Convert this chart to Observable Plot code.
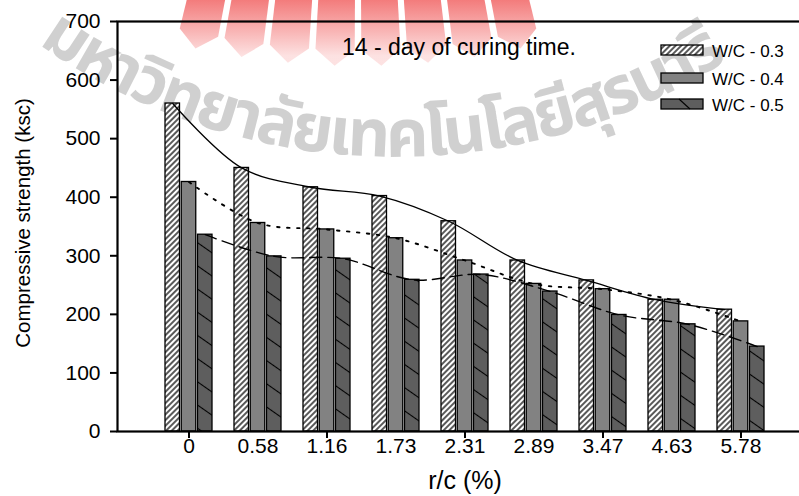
<!DOCTYPE html>
<html>
<head>
<meta charset="utf-8">
<script src="https://cdn.jsdelivr.net/npm/d3@7"></script>
<script src="https://cdn.jsdelivr.net/npm/@observablehq/plot@0.6"></script>
<style>
html,body{margin:0;padding:0;background:#fff;}
#chart{position:relative;width:799px;height:496px;overflow:hidden;}
#chart svg{font-family:"Liberation Sans",Arial,sans-serif;}
</style>
</head>
<body>
<svg width="0" height="0" style="position:absolute">
  <defs>
    <pattern id="hatch03" patternUnits="userSpaceOnUse" width="4" height="4" patternTransform="rotate(45)">
      <rect width="4" height="4" fill="#fff"/>
      <line x1="2" y1="0" x2="2" y2="4" stroke="#000" stroke-width="1.3"/>
    </pattern>
    <pattern id="hatch05" patternUnits="userSpaceOnUse" width="10" height="19" patternTransform="rotate(35)">
      <rect width="10" height="19" fill="#5e5e5e"/>
      <line x1="0" y1="9.5" x2="10" y2="9.5" stroke="#000" stroke-width="1.1"/>
    </pattern>
    <linearGradient id="sealGrad" gradientUnits="userSpaceOnUse" x1="0" y1="0" x2="0" y2="56">
      <stop offset="0" stop-color="#ef5050"/>
      <stop offset="1" stop-color="#fcd8d8"/>
    </linearGradient>
  </defs>
</svg>
<div id="chart"></div>
<script>
const categories = ["0","0.58","1.16","1.73","2.31","2.89","3.47","4.63","5.78"];
const seriesNames = ["W/C - 0.3","W/C - 0.4","W/C - 0.5"];
const wc03 = [560,450,417,402,359,292,258,225,208];
const wc04 = [426,356,345,330,292,252,243,225,188];
const wc05 = [336,299,295,259,268,239,199,183,145];
const yTicks = [0,100,200,300,400,500,600,700];
const majorTicks = ["0","1.16","2.31","3.47","5.78"];
const titleText = "14 - day of curing time.";
const xLabel = "r/c (%)";
const yLabel = "Compressive strength (ksc)";
const watermark = "มหาวิทยาลัยเทคโนโลยีสุรนารี";

const values = [wc03, wc04, wc05];
const rows = values.flatMap((arr, k) => arr.map((v, i) => ({cat: categories[i], series: seriesNames[k], k, value: v})));

const fills = ["url(#hatch03)", "#828282", "url(#hatch05)"];
const dashes = ["none", "2.5,7.5", "12,6"];
const widths = [1.3, 1.9, 1.4];
const gap = 16.25;

const barMarks = seriesNames.map((s, k) =>
  Plot.barY(rows.filter(r => r.k === k), {
    x: "cat", y: "value", fill: fills[k], stroke: "#000", strokeWidth: 1.3,
    insetLeft: k * gap, insetRight: (2 - k) * gap
  }));
const lineMarks = seriesNames.map((s, k) =>
  Plot.line(rows.filter(r => r.k === k), {
    x: "cat", y: "value", dx: (k - 1) * gap, curve: "catmull-rom",
    stroke: "#000", strokeWidth: widths[k], strokeDasharray: dashes[k]
  }));

const chart = Plot.plot({
  width: 799, height: 496,
  marginLeft: 117, marginRight: -12, marginTop: 21, marginBottom: 65,
  style: {fontFamily: '"Liberation Sans", Arial, sans-serif', color: "#000", overflow: "hidden"},
  x: {type: "band", domain: categories, paddingInner: 0.326, paddingOuter: 0.639},
  y: {domain: [0, 700]},
  marks: [
    ...barMarks,
    ...lineMarks,
    Plot.frame({stroke: "#000", strokeWidth: 2.2}),
    Plot.axisY({ticks: yTicks, tickSize: 7, tickPadding: 10, fontSize: 21, label: null, strokeWidth: 2}),
    Plot.axisX({ticks: categories, tickSize: 0, tickPadding: 7, fontSize: 21, label: null}),
    Plot.axisX({ticks: majorTicks, tickSize: 7, tickFormat: () => "", label: null, strokeWidth: 2})
  ]
});
document.getElementById("chart").appendChild(chart);

const svg = d3.select(chart);
// watermark layer (behind everything)
const wm = svg.insert("g", ":first-child").attr("class", "watermark");
const cx = 358, cy = -700, R = 750, tipR = 766;
const rad = a => a * Math.PI / 180;
const pt = (r, a) => [cx + r * Math.sin(rad(a)), cy + r * Math.cos(rad(a))];
[-12.25, -8.75, -5.25, -1.75, 1.75, 5.25, 8.75, 12.25].forEach(a => {
  const p = [pt(600, a - 1.5), pt(R, a - 1.5), pt(tipR, a), pt(R, a + 1.5), pt(600, a + 1.5)];
  wm.append("path").attr("d", "M" + p.map(q => q.join(",")).join("L") + "Z")
    .attr("fill", "url(#sealGrad)").attr("opacity", 0.75);
});
wm.append("path").attr("id", "wmArc").attr("fill", "none")
  .attr("d", "M -140 -150 A 620 620 0 0 0 930 -150");
wm.append("text")
  .attr("font-family", '"Noto Sans Thai","Noto Sans Thai UI","Loma","Garuda","Tlwg Typo","Norasi",sans-serif')
  .attr("font-size", 66).attr("font-weight", "bold").attr("letter-spacing", -3)
  .attr("fill", "#bdbdbd").attr("opacity", 0.7)
  .append("textPath").attr("href", "#wmArc").attr("startOffset", "48.8%").attr("text-anchor", "middle")
  .text(watermark);

// titles
svg.append("text").attr("x", 342).attr("y", 55).attr("text-anchor", "start").attr("font-size", 23).attr("fill", "#000").text(titleText);
svg.append("text").attr("x", 465).attr("y", 489).attr("text-anchor", "middle").attr("font-size", 25).attr("fill", "#000").text(xLabel);
svg.append("text").attr("transform", "translate(30,223) rotate(-90)").attr("text-anchor", "middle").attr("font-size", 20.5).attr("fill", "#000").text(yLabel);

// legend
const lg = svg.append("g");
const rowsY = [45, 73, 99];
const swFill = ["url(#hatch03)", "#828282", "#5e5e5e"];
seriesNames.forEach((s, k) => {
  lg.append("rect").attr("x", 661).attr("y", rowsY[k]).attr("width", 42).attr("height", 10)
    .attr("fill", swFill[k]).attr("stroke", "#000").attr("stroke-width", 1.3);
  if (k === 2) lg.append("line").attr("x1", 679).attr("y1", rowsY[k]).attr("x2", 690).attr("y2", rowsY[k] + 10)
    .attr("stroke", "#000").attr("stroke-width", 1.1);
  lg.append("text").attr("x", 712).attr("y", rowsY[k] + 11.5).attr("text-anchor", "start").attr("font-size", 17).attr("fill", "#000").text(s);
});
</script>
</body>
</html>
